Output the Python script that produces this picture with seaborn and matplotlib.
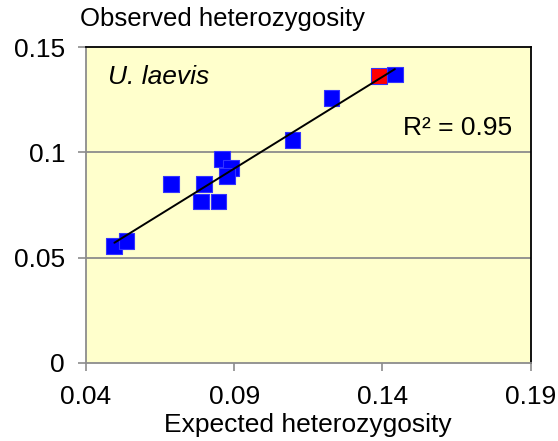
import numpy as np
import pandas as pd
import matplotlib
matplotlib.use("Agg")
import matplotlib.pyplot as plt
import seaborn as sns

# Heterozygosity per population
expected = [0.0496, 0.0537, 0.0686, 0.0798, 0.0788, 0.0847, 0.0858,
            0.0889, 0.0875, 0.1097, 0.1228, 0.1389, 0.1442]
observed = [0.0557, 0.0579, 0.0850, 0.0850, 0.0767, 0.0767, 0.0970,
            0.0925, 0.0888, 0.1058, 0.1259, 0.1362, 0.1370]
group = ["other"] * 11 + ["highlight", "other"]

x_ticks = [0.04, 0.09, 0.14, 0.19]
y_ticks = [0, 0.05, 0.1, 0.15]
y_tick_labels = ["0", "0.05", "0.1", "0.15"]
r2_label = "R² = 0.95"

df = pd.DataFrame({"expected": expected, "observed": observed, "group": group})

sns.set_theme(style="white")
plt.rcParams["font.family"] = ["Liberation Sans", "DejaVu Sans"]
plt.rcParams["text.color"] = "black"

fig = plt.figure(figsize=(5.58, 4.41), dpi=100)
ax = fig.add_axes([0.154, 0.177, 0.797, 0.716])
ax.set_facecolor("#FFFFCC")

sns.scatterplot(data=df, x="expected", y="observed", hue="group",
                palette={"other": "#0000FF", "highlight": "#FF0000"},
                marker="s", s=130, edgecolor="#3333FF", linewidth=0.8,
                legend=False, ax=ax, zorder=3)
sns.regplot(data=df, x="expected", y="observed", scatter=False, ci=None,
            line_kws={"color": "black", "linewidth": 1.4, "zorder": 4}, ax=ax)

ax.set_xlim(0.04, 0.19)
ax.set_ylim(0, 0.15)
ax.set_xticks(x_ticks)
ax.set_xticklabels([f"{t:.2f}" for t in x_ticks])
ax.set_yticks(y_ticks)
ax.set_yticklabels(y_tick_labels)

for yv in y_ticks[1:-1]:
    ax.axhline(yv, color="#8C8C8C", linewidth=1.3, zorder=1)

for side in ["left", "bottom"]:
    ax.spines[side].set_color("#8C8C8C")
    ax.spines[side].set_linewidth(1.3)
for side in ["top", "right"]:
    ax.spines[side].set_color("black")
    ax.spines[side].set_linewidth(1.3)

ax.tick_params(axis="both", which="both", direction="out", length=6, width=1.2,
               color="#8C8C8C", labelsize=19, labelcolor="black")
ax.tick_params(axis="x", pad=10)
ax.tick_params(axis="y", pad=9)
ax.tick_params(bottom=True, left=True)

ax.set_xlabel("Expected heterozygosity", fontsize=19, color="black", labelpad=3)
ax.set_ylabel("")
fig.text(0.143, 0.958, "Observed heterozygosity", fontsize=18.5, color="black",
         ha="left", va="center")

ax.text(0.0474, 0.1357, "U. laevis", fontsize=19, style="italic", color="black",
        ha="left", va="center")
ax.text(0.1836, 0.1115, r2_label, fontsize=19, color="black", ha="right", va="center")

fig.savefig("out.png", dpi=100, facecolor="white")
